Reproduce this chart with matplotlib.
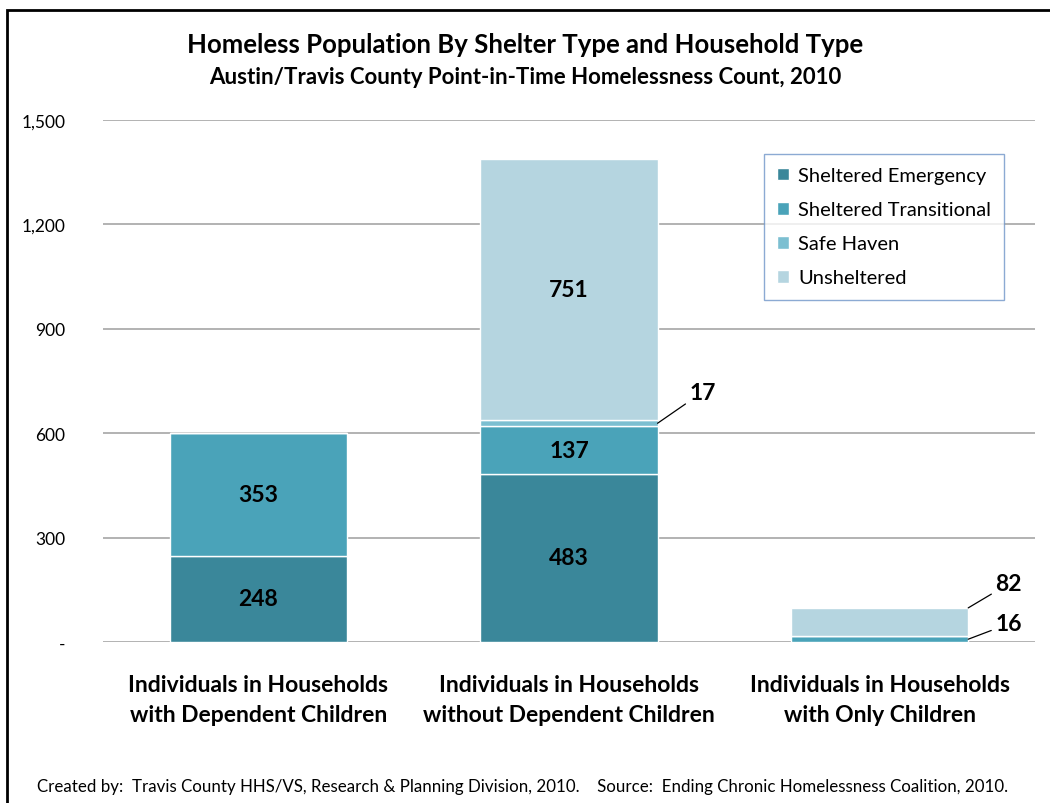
import matplotlib.pyplot as plt
from matplotlib.patches import Rectangle

plt.rcParams['font.family'] = ['Lato', 'DejaVu Sans']

# household types and counts by shelter type
categories = ["Individuals in Households\nwith Dependent Children",
              "Individuals in Households\nwithout Dependent Children",
              "Individuals in Households\nwith Only Children"]
emergency = [248, 483, 0]
transitional = [353, 137, 16]
safe_haven = [0, 17, 0]
unsheltered = [0, 751, 82]
series_names = ["Sheltered Emergency", "Sheltered Transitional", "Safe Haven", "Unsheltered"]
colors = ["#3a879a", "#4aa3b9", "#7cbfd1", "#b5d5e0"]
yticks = [0, 300, 600, 900, 1200, 1500]
ytick_labels = ["-", "300", "600", "900", "1,200", "1,500"]

fig = plt.figure(figsize=(10.5, 8.04), dpi=100)
ax = fig.add_axes([103 / 1050, 1 - 643 / 804, 932 / 1050, 522 / 804])

x = list(range(len(categories)))
width = 0.57
bottom = [0, 0, 0]
for vals, name, c in zip([emergency, transitional, safe_haven, unsheltered], series_names, colors):
    ax.bar(x, vals, width, bottom=bottom, color=c, label=name, edgecolor="white", linewidth=1.0, zorder=3)
    bottom = [b + v for b, v in zip(bottom, vals)]

# labels inside segments
inside = [(0, emergency[0] / 2, emergency[0]),
          (0, emergency[0] + transitional[0] / 2, transitional[0]),
          (1, emergency[1] / 2, emergency[1]),
          (1, emergency[1] + transitional[1] / 2, transitional[1]),
          (1, emergency[1] + transitional[1] + safe_haven[1] + unsheltered[1] / 2, unsheltered[1])]
for xi, yi, v in inside:
    ax.text(xi, yi, str(v), ha="center", va="center", fontsize=16.5, fontweight="bold", color="black", zorder=4)

# callout labels for small segments
arrow = dict(arrowstyle="-", color="black", lw=0.9, shrinkA=1, shrinkB=0)
sh_mid = emergency[1] + transitional[1] + safe_haven[1] / 2
ax.annotate(str(safe_haven[1]), xy=(1 + width / 2, sh_mid), xytext=(1.43, 718),
            ha="center", va="center", fontsize=16.5, fontweight="bold", arrowprops=arrow)
ax.annotate(str(unsheltered[2]), xy=(2 + width / 2, transitional[2] + unsheltered[2]), xytext=(2.415, 167),
            ha="center", va="center", fontsize=16.5, fontweight="bold", arrowprops=arrow)
ax.annotate(str(transitional[2]), xy=(2 + width / 2, transitional[2] / 2), xytext=(2.415, 52),
            ha="center", va="center", fontsize=16.5, fontweight="bold", arrowprops=arrow)

ax.set_xlim(-0.5, 2.5)
ax.set_ylim(0, 1500)
ax.set_yticks(yticks)
ax.set_yticklabels(ytick_labels, fontsize=12.5)
ax.set_xticks(x)
ax.set_xticklabels(categories, fontsize=16.5, fontweight="bold", linespacing=1.55)
ax.tick_params(axis="y", length=0, pad=27)
ax.tick_params(axis="x", length=0, pad=23)
ax.grid(axis="y", color="#a6a6a6", linewidth=1.2, zorder=0)
for s in ax.spines.values():
    s.set_visible(False)

leg = ax.legend(loc="upper left", bbox_to_anchor=((764 - 103) / 932, 1 - (155 - 121) / 522),
                fontsize=14.5, frameon=True, fancybox=False, handlelength=0.6, handleheight=0.6,
                labelspacing=0.85, borderpad=0.65, handletextpad=0.45, borderaxespad=0)
leg.get_frame().set_edgecolor("#6f95c8")
leg.get_frame().set_linewidth(1.0)

fig.text(0.5, 1 - 45 / 804, "Homeless Population By Shelter Type and Household Type",
         ha="center", va="center", fontsize=18.5, fontweight="bold")
fig.text(0.5, 1 - 77 / 804, "Austin/Travis County Point-in-Time Homelessness Count, 2010",
         ha="center", va="center", fontsize=16, fontweight="bold")
fig.text(523 / 1050, 1 - 787 / 804,
         "Created by:  Travis County HHS/VS, Research & Planning Division, 2010.    Source:  Ending Chronic Homelessness Coalition, 2010.",
         ha="center", va="center", fontsize=12.2)

# outer frame (runs off right and bottom)
fig.patches.append(Rectangle((7 / 1050, -0.1), 1.2, 1 - 11 / 804 + 0.1, transform=fig.transFigure,
                             fill=False, edgecolor="black", linewidth=2))

fig.savefig("out.png", dpi=100)
